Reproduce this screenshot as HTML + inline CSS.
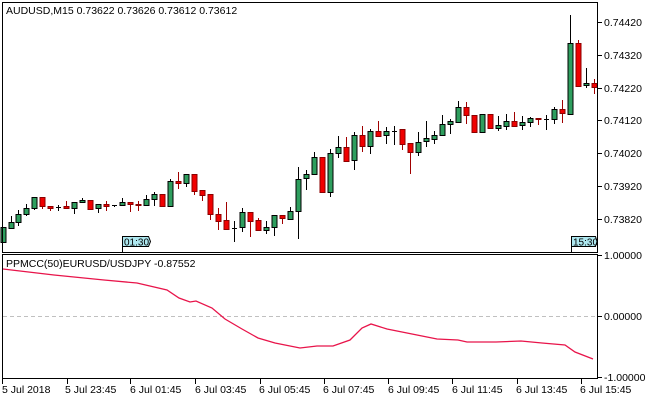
<!DOCTYPE html>
<html><head><meta charset="utf-8"><style>
html,body{margin:0;padding:0;background:#fff;}
svg{display:block;font-family:"Liberation Sans",sans-serif;font-size:10.5px;}
</style></head><body>
<svg id="s" width="650" height="400" xmlns="http://www.w3.org/2000/svg">
<rect x="0" y="0" width="650" height="400" fill="#fff"/>
<g id="c"></g>
<rect x="2.5" y="2.5" width="595" height="250" fill="none" stroke="#000"/>
<rect x="2.5" y="254.5" width="595" height="124" fill="none" stroke="#000"/>
<text x="6" y="14" fill="#000">AUDUSD,M15  0.73622 0.73626 0.73612 0.73612</text>
<text x="6" y="267" fill="#000">PPMCC(50)EURUSD/USDJPY -0.87552</text>
<line x1="3" y1="316.5" x2="597" y2="316.5" stroke="#c0c0c0" stroke-dasharray="4,3"/>
<polyline fill="none" stroke="#e8144a" stroke-width="1.3" points="3,269 54,275 104,280 137,283 167,290 179,298 190,302 196,301 212,308 225,319 242,329 258,338 275,343 300,348 317,346 333,346 350,340 362,328 371,324 387,329 417,335 437,339 458,340 467,342 496,342 521,341 542,343 565,345 575,352 593,359"/>
<g fill="#000" id="ax"></g>
<g>
<path d="M122.5 236.5 h26 l2 5 l-2 5 h-26 z" fill="#aee8f0" stroke="#000"/>
<text x="124" y="245.5" font-size="10">01:30</text>
<path d="M571.5 236.5 h24 l1.5 5 l-1.5 5 h-24 z" fill="#aee8f0" stroke="#000"/>
<text x="573" y="245.5" font-size="10">15:30</text>
</g>
</svg>
<script>
var d=[[3,227,242,227,242,'g'],[10.5,222,228,216,228,'g'],[18,214,222,210,225,'g'],[26,208,214,204,215,'g'],[34,197,208,197,209,'g'],[42,197,206,197,208,'r'],[50,206,208,206,210,'r'],[58,207,207,205,210,'k'],[66,206,208,201,208,'r'],[74,202,208,202,213,'g'],[82,200,202,198,202,'g'],[90,200,209,200,209,'r'],[98,204,208,204,212,'g'],[106,204,206,201,210,'r'],[114,205,205,205,206,'k'],[122,202,205,198,205,'g'],[130,202,204,202,211,'r'],[138,204,205,201,210,'r'],[146,199,205,195,205,'g'],[154,194,199,192,205,'g'],[162,194,206,194,206,'r'],[170,181,206,179,206,'g'],[178,181,183,172,188,'r'],[186,174,183,174,186,'g'],[194,174,191,174,194,'r'],[202,190,195,190,200,'r'],[210,194,214,194,219,'r'],[218,214,221,208,229,'r'],[226,220,229,202,229,'r'],[234,228,228,221,241,'k'],[242,212,227,208,231,'g'],[250,212,221,212,236,'r'],[258,220,230,218,230,'r'],[266,227,230,221,233,'g'],[274,215,227,215,235,'g'],[282,215,218,215,223,'r'],[290,211,219,207,219,'g'],[298,179,211,167,238,'g'],[306,174,178,170,189,'g'],[314,157,174,152,174,'g'],[322,157,192,157,192,'r'],[330,153,192,149,196,'g'],[338,147,153,136,157,'g'],[346,147,161,137,161,'r'],[354,135,160,132,169,'g'],[362,135,146,126,151,'r'],[370,131,146,129,153,'g'],[378,131,136,121,136,'r'],[386,131,135,127,143,'g'],[394,131,131,126,144,'k'],[402,129,144,129,149,'r'],[410,143,152,143,173,'r'],[418,142,152,132,155,'g'],[426,138,141,121,146,'g'],[434,135,139,131,143,'g'],[442,124,135,115,135,'g'],[450,121,124,119,133,'g'],[458,107,122,101,122,'g'],[466,107,115,102,123,'r'],[474,115,132,115,132,'r'],[482,114,132,114,132,'g'],[490,114,128,114,128,'r'],[498,125,128,116,130,'g'],[506,121,126,114,129,'g'],[514,121,126,112,126,'r'],[522,122,125,116,129,'g'],[530,118,122,117,126,'g'],[538,118,119,118,124,'r'],[546,119,119,115,129,'k'],[554,109,119,107,123,'g'],[562,109,113,100,122,'r'],[570,43,114,15,114,'g'],[578,43,86,40,86,'r'],[586,83,85,68,87,'g'],[594,83,87,79,93,'r']];
var ns='http://www.w3.org/2000/svg',g=document.getElementById('c'),h='';
d.forEach(function(c){var x=Math.round(c[0]),col=c[5];
var wc=col=='r'?'#a00000':'#000';
h+='<line x1="'+(x+0.5)+'" y1="'+c[3]+'" x2="'+(x+0.5)+'" y2="'+(c[4]+1)+'" stroke="'+wc+'"/>';
if(col=='k'){h+='<line x1="'+(x-2)+'" y1="'+(c[1]+0.5)+'" x2="'+(x+3)+'" y2="'+(c[1]+0.5)+'" stroke="#000"/>';}
else{var f=col=='g'?'#2e9e5e':'#f00000';var s=col=='g'?'#000':'#8b0000';
h+='<rect x="'+(x-2)+'" y="'+(c[1]+0.5)+'" width="5" height="'+Math.max(c[2]-c[1],1)+'" fill="'+f+'" stroke="'+s+'"/>';}
});
g.innerHTML=h;
var a='',pr=[['0.74420',22],['0.74320',55],['0.74220',88],['0.74120',120],['0.74020',153],['0.73920',186],['0.73820',219]];
pr.forEach(function(p){a+='<line x1="598" y1="'+(p[1]+0.5)+'" x2="602" y2="'+(p[1]+0.5)+'" stroke="#000"/><text x="604" y="'+(p[1]+4)+'">'+p[0]+'</text>';});
[['1.00000',255],['0.00000',316],['-1.00000',377]].forEach(function(p){a+='<line x1="598" y1="'+(p[1]+0.5)+'" x2="602" y2="'+(p[1]+0.5)+'" stroke="#000"/><text x="604" y="'+(p[1]+4)+'">'+p[0]+'</text>';});
var t=[['5 Jul 2018',2,2],['5 Jul 23:45',65,67],['6 Jul 01:45',130,130],['6 Jul 03:45',195,195],['6 Jul 05:45',259,260],['6 Jul 07:45',323,324],['6 Jul 09:45',388,388],['6 Jul 11:45',452,452],['6 Jul 13:45',516,517],['6 Jul 15:45',580,581]];
t.forEach(function(p){a+='<line x1="'+(p[2]+0.5)+'" y1="379" x2="'+(p[2]+0.5)+'" y2="384" stroke="#000"/><text x="'+p[1]+'" y="393">'+p[0]+'</text>';});
a+='<line x1="122.5" y1="246" x2="122.5" y2="253" stroke="#000"/><line x1="571.5" y1="246" x2="571.5" y2="253" stroke="#000"/>';
document.getElementById('ax').innerHTML=a;
</script>
</body></html>
